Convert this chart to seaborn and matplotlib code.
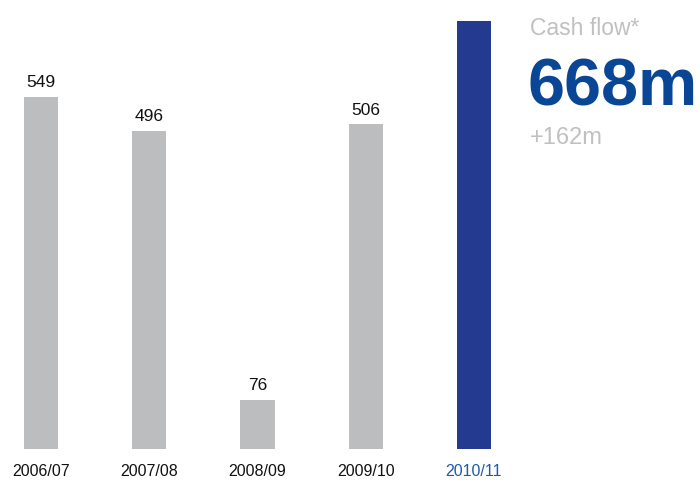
import matplotlib
matplotlib.use("Agg")
import matplotlib.pyplot as plt
import seaborn as sns
import pandas as pd

years = ["2006/07", "2007/08", "2008/09", "2009/10", "2010/11"]
cash_flow = [549, 496, 76, 506, 668]
bar_colors = ["#bcbdbf", "#bcbdbf", "#bcbdbf", "#bcbdbf", "#233a8e"]
tick_colors = ["#111111", "#111111", "#111111", "#111111", "#1f5aa8"]
value_labels = ["549", "496", "76", "506", ""]

sns.set_theme(style="white")
plt.rcParams["font.family"] = ["Liberation Sans", "DejaVu Sans"]

df = pd.DataFrame({"year": years, "value": cash_flow})

fig = plt.figure(figsize=(7.0, 4.88), dpi=100)
ax = fig.add_axes([0.0, 0.0799, 1.0, 0.92])

sns.barplot(data=df, x="year", y="value", hue="year", palette=bar_colors,
            width=0.315, legend=False, ax=ax, saturation=1, linewidth=0)

ax.set_xlim(-0.379, 6.088)
ax.set_ylim(0, 700)
ax.set_xlabel("")
ax.set_ylabel("")
ax.set_yticks([])
for s in ax.spines.values():
    s.set_visible(False)

ax.tick_params(axis="x", length=0, pad=11, labelsize=11.5)
for lbl, c in zip(ax.get_xticklabels(), tick_colors):
    lbl.set_color(c)

# value labels above the grey bars (one container per hue level)
for cont, lab in zip(ax.containers, value_labels):
    ax.bar_label(cont, labels=[lab], padding=5, fontsize=12.5, color="#111111")

fig.text(530 / 700, 1 - 35 / 488, "Cash flow*", fontsize=16.5, color="#c0c0c0",
         ha="left", va="baseline")
fig.text(528 / 700, 1 - 106 / 488, "668m", fontsize=48, fontweight="bold",
         color="#0a4696", ha="left", va="baseline")
fig.text(530 / 700, 1 - 144 / 488, "+162m", fontsize=17, color="#c0c0c0",
         ha="left", va="baseline")

fig.savefig("out.png", dpi=100, facecolor="white")
